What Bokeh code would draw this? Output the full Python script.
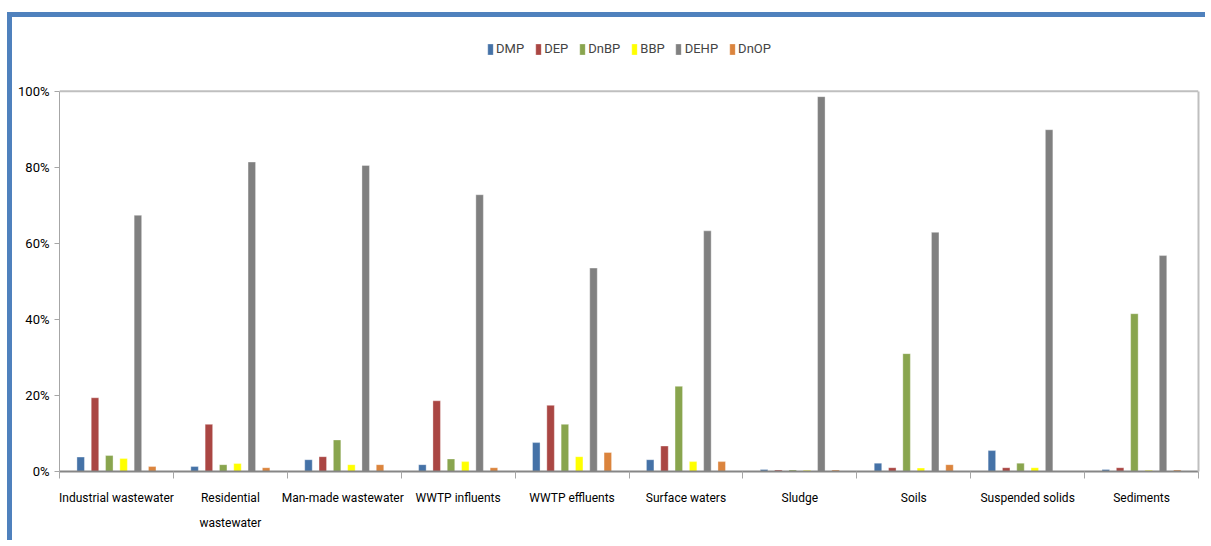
from bokeh.plotting import figure
from bokeh.models import (Range1d, LinearAxis, FixedTicker, NumeralTickFormatter, Legend,
                          LegendItem, ColumnDataSource, Span)
from bokeh.embed import file_html
from bokeh.resources import INLINE

categories = ["Industrial wastewater", "Residential\nwastewater", "Man-made  wastewater",
              "WWTP influents", "WWTP effluents", "Surface waters", "Sludge", "Soils",
              "Suspended solids", "Sediments"]
series = ["DMP", "DEP", "DnBP", "BBP", "DEHP", "DnOP"]
DMP = [3.8, 1.3, 3.1, 1.8, 7.6, 3.1, 0.5, 2.2, 5.5, 0.5]
DEP = [19.4, 12.4, 3.9, 18.6, 17.4, 6.7, 0.4, 1.0, 1.0, 1.0]
DnBP = [4.2, 1.8, 8.3, 3.3, 12.4, 22.4, 0.4, 31.0, 2.2, 41.5]
BBP = [3.4, 2.1, 1.8, 2.6, 3.9, 2.6, 0.3, 0.9, 1.0, 0.3]
DEHP = [67.4, 81.4, 80.5, 72.8, 53.5, 63.3, 98.6, 62.9, 89.9, 56.8]
DnOP = [1.3, 1.0, 1.8, 1.0, 5.0, 2.6, 0.4, 1.8, 0.0, 0.4]
y_ticks = [0, 0.2, 0.4, 0.6, 0.8, 1.0]

colors = ["#4572A7", "#AA4643", "#89A54E", "#FFFF00", "#808080", "#DB843D"]
values = [DMP, DEP, DnBP, BBP, DEHP, DnOP]
FONT = "Roboto"
W, H = 1198, 528

n = len(categories)
centers = [i + 0.5 for i in range(n)]
bounds = list(range(n + 1))
step = 0.1256

p = figure(width=W, height=H, x_range=Range1d(0, n), y_range=Range1d(0, 1.16),
           output_backend="svg", toolbar_location=None, x_axis_location=None,
           min_border_left=47, min_border_right=12, min_border_top=13, min_border_bottom=74)
p.margin = (12, 0, 0, 7)
p.styles = {"border-top": "5px solid #4F81BD", "border-left": "5px solid #4F81BD"}
p.background_fill_color = "white"
p.border_fill_color = "white"
p.outline_line_color = None
p.xgrid.visible = False
p.ygrid.visible = False

items = []
for i, (name, vals, col) in enumerate(zip(series, values, colors)):
    src = ColumnDataSource({"x": [c + (i - 2.5) * step for c in centers],
                            "top": [v / 100.0 for v in vals]})
    r = p.vbar(x="x", top="top", width=0.066, source=src, fill_color=col,
               line_color="white", line_alpha=0.35, line_width=1)
    items.append(LegendItem(label=name, renderers=[r]))

# plot-area top border at 100%
p.add_layout(Span(location=y_ticks[-1], dimension="width", line_color="#BFBFBF", line_width=2))

# y axis
ya = p.yaxis[0]
ya.bounds = (y_ticks[0], y_ticks[-1])
ya.ticker = FixedTicker(ticks=y_ticks)
ya.formatter = NumeralTickFormatter(format="0%")
ya.axis_line_color = "#A6A6A6"
ya.major_tick_line_color = "#A6A6A6"
ya.major_tick_in = 0
ya.major_tick_out = 5
ya.minor_tick_line_color = None
ya.major_label_standoff = 5
ya.major_label_text_font = FONT
ya.major_label_text_font_size = "13px"
ya.major_label_text_color = "#000000"

# right border of plot area
ra = LinearAxis(bounds=(y_ticks[0], y_ticks[-1]), ticker=FixedTicker(ticks=[]))
ra.axis_line_color = "#BFBFBF"
ra.axis_line_width = 2
ra.major_tick_line_color = None
ra.minor_tick_line_color = None
p.add_layout(ra, "right")

# x axis: labels at category centres, boundary ticks as minor ticks
xa = LinearAxis(ticker=FixedTicker(ticks=centers, minor_ticks=bounds),
                major_label_overrides={c: lab for c, lab in zip(centers, categories)})
xa.axis_line_color = "#868686"
xa.axis_line_width = 2
xa.major_tick_line_color = None
xa.major_tick_in = 0
xa.major_tick_out = 7
xa.minor_tick_line_color = "#A6A6A6"
xa.minor_tick_in = 0
xa.minor_tick_out = 7
xa.major_label_standoff = 12
xa.major_label_text_font = FONT
xa.major_label_text_font_size = "12px"
xa.major_label_text_color = "#000000"
xa.major_label_text_line_height = 1.85
p.add_layout(xa, "below")

legend = Legend(items=items, orientation="horizontal", location="top_center",
                glyph_width=7, glyph_height=14, label_standoff=3, spacing=10,
                padding=3, margin=11, border_line_color=None, background_fill_alpha=0,
                label_text_font=FONT, label_text_font_size="13px", label_height=14)
p.add_layout(legend)

open("out.html", "w").write(file_html(p, INLINE))
